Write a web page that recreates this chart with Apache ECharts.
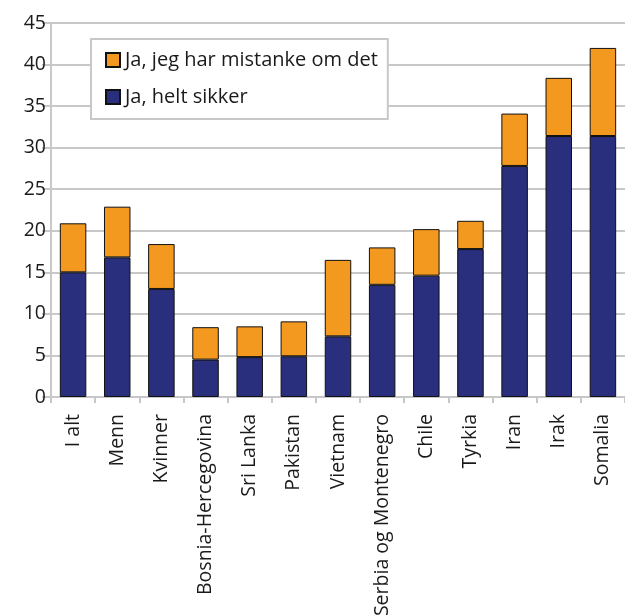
<!DOCTYPE html>
<html>
<head>
<meta charset="utf-8">
<script src="https://cdn.jsdelivr.net/npm/echarts@6/dist/echarts.min.js"></script>
<style>html,body{margin:0;padding:0;background:#fff}#c{width:625px;height:615px}</style>
</head>
<body>
<div id="c"></div>
<script>
const categories = ['I alt','Menn','Kvinner','Bosnia-Hercegovina','Sri Lanka','Pakistan','Vietnam','Serbia og Montenegro','Chile','Tyrkia','Iran','Irak','Somalia'];
const heltSikker = [15.0, 16.8, 13.0, 4.5, 4.8, 4.9, 7.3, 13.5, 14.6, 17.8, 27.8, 31.4, 31.4];
const mistanke = [5.9, 6.1, 5.4, 3.9, 3.7, 4.2, 9.2, 4.5, 5.6, 3.4, 6.3, 7.0, 10.6];
const yTicks = [0, 5, 10, 15, 20, 25, 30, 35, 40, 45];
const seriesNames = ['Ja, helt sikker', 'Ja, jeg har mistanke om det'];

const font = '"Open Sans", "Noto Sans", sans-serif';
const chart = echarts.init(document.getElementById('c'), null, {renderer: 'canvas'});
chart.setOption({
  animation: false,
  backgroundColor: '#fff',
  textStyle: {fontFamily: font},
  legend: {
    orient: 'vertical',
    left: 91, top: 39,
    data: [seriesNames[1], seriesNames[0]],
    itemWidth: 14, itemHeight: 14, itemGap: 17,
    padding: [11, 10, 12, 14],
    borderColor: '#c8c8c8', borderWidth: 2,
    backgroundColor: '#fff',
    icon: 'rect',
    textStyle: {fontFamily: font, fontSize: 20, color: '#1a1a1a'}
  },
  grid: {left: 51, right: 0, top: 23, bottom: 218, containLabel: false, outerBoundsMode: 'none'},
  xAxis: {
    type: 'category',
    data: categories,
    axisLine: {lineStyle: {color: '#c8c8c8', width: 2}},
    axisTick: {show: true, length: 6, lineStyle: {color: '#c8c8c8', width: 2}},
    axisLabel: {rotate: 90, fontSize: 19.5, color: '#1a1a1a', margin: 17, fontFamily: font, interval: 0}
  },
  yAxis: {
    type: 'value',
    min: 0, max: 45, interval: 5,
    axisLine: {show: true, lineStyle: {color: '#c8c8c8', width: 2}},
    axisTick: {show: true, length: 9, lineStyle: {color: '#c8c8c8', width: 2}},
    axisLabel: {fontSize: 19.5, color: '#1a1a1a', margin: 5, fontFamily: font,
      formatter: v => yTicks.includes(v) ? String(v) : ''},
    splitLine: {lineStyle: {color: '#c8c8c8', width: 2}}
  },
  series: [
    {name: seriesNames[0], type: 'bar', stack: 'a', data: heltSikker, barWidth: '60%',
     itemStyle: {color: '#292e7d', borderColor: '#111', borderWidth: 1}},
    {name: seriesNames[1], type: 'bar', stack: 'a', data: mistanke, barWidth: '60%',
     itemStyle: {color: '#f4991f', borderColor: '#111', borderWidth: 1}}
  ]
});
</script>
</body>
</html>
